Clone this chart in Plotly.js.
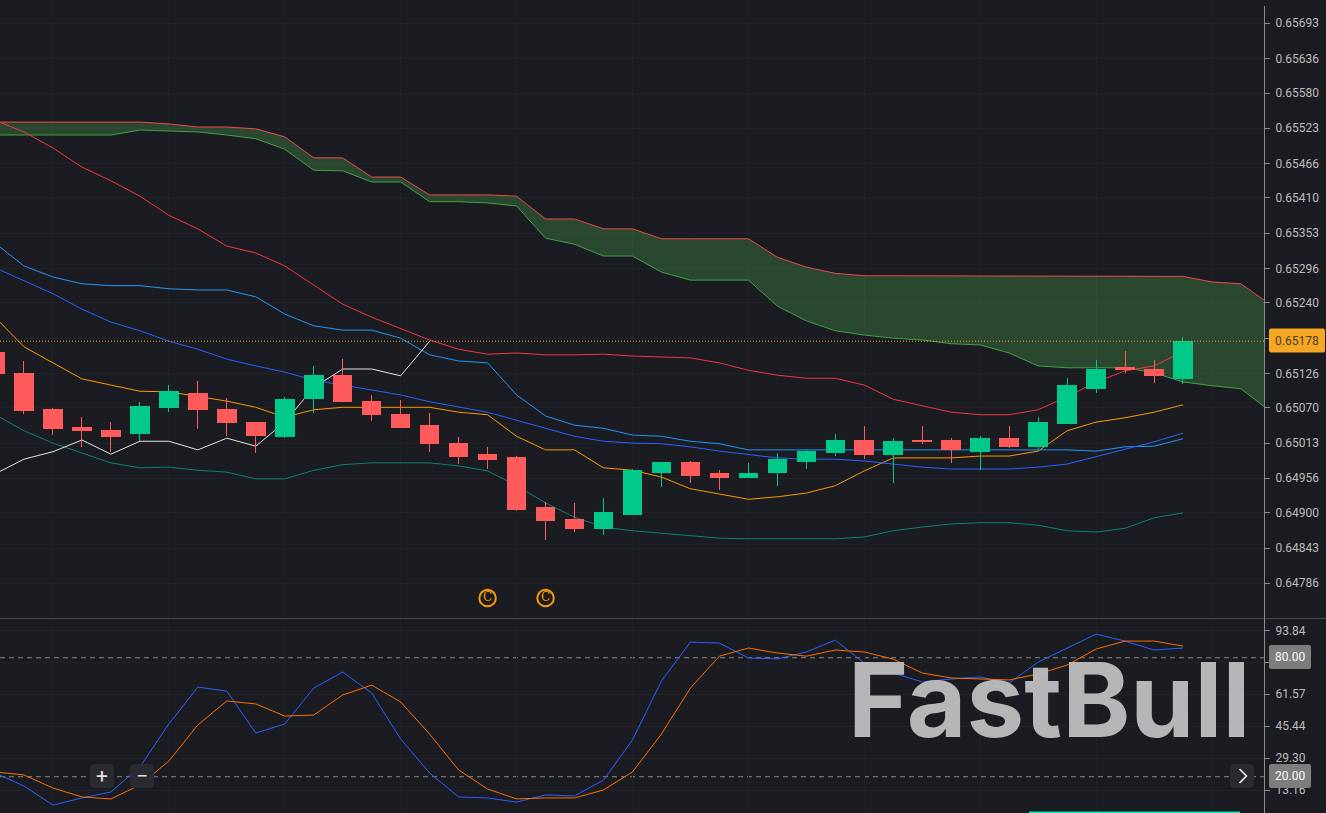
<!DOCTYPE html>
<html>
<head>
<meta charset="utf-8">
<script src="https://cdn.plot.ly/plotly-3.0.1.min.js"></script>
<style>html,body{margin:0;padding:0;background:#1b1c21;overflow:hidden}#chart{width:1326px;height:813px}
path.box{stroke-linejoin:miter !important;shape-rendering:crispEdges}</style>
</head>
<body>
<div id="chart"></div>
<script>
// Candles in price units x 1e-5
const open  = [65159,65125,65068,65039,65034,65028,65071,65094,65067,65046,65024,65086,65123,65081,65060,65041,65012,64994,64989,64909,64890,64875,64898,64966,64981,64963,64958,64965,64984,64997,65018,64995,65018,65018,65000,65020,65007,65044,65101,65135,65133,65118];
const high  = [65172,65146,65070,65055,65047,65080,65107,65114,65086,65046,65088,65138,65149,65091,65083,65062,65023,65007,64992,64918,64916,64924,64971,64981,64984,64969,64981,64997,65002,65028,65041,65021,65041,65021,65024,65041,65055,65118,65148,65162,65148,65185];
const low   = [65118,65060,65026,65007,64999,65016,65063,65036,65024,64997,65021,65062,65081,65049,65039,64999,64979,64971,64903,64856,64869,64864,64898,64942,64948,64937,64958,64944,64971,64992,64987,64948,65012,64981,64969,65005,65003,65044,65094,65127,65110,65109];
const close = [65125,65065,65037,65033,65024,65073,65096,65067,65046,65026,65083,65123,65081,65060,65039,65012,64991,64987,64906,64888,64875,64900,64968,64981,64960,64958,64963,64987,64999,65018,64995,65016,65016,65002,65021,65008,65047,65107,65133,65133,65122,65178];
const spanB = [65533,65533,65533,65533,65533,65533,65530,65525,65525,65522,65509,65475,65475,65444,65444,65415,65415,65415,65413,65376,65376,65360,65360,65344,65344,65344,65344,65314,65298,65288,65284,65284,65284,65284,65284,65283,65283,65283,65283,65283,65283,65283,65274,65271,65238];
const spanA = [65512,65512,65512,65512,65512,65520,65519,65517,65512,65506,65489,65455,65454,65436,65436,65404,65404,65402,65397,65345,65335,65316,65316,65290,65277,65277,65277,65235,65211,65195,65188,65183,65180,65174,65172,65159,65138,65135,65135,65135,65127,65112,65106,65101,65065];
const bbUpper = [65536,65517,65491,65460,65438,65413,65382,65360,65332,65321,65300,65269,65238,65217,65199,65180,65165,65157,65159,65156,65156,65157,65154,65152,65151,65143,65131,65123,65118,65118,65107,65084,65073,65063,65059,65059,65067,65088,65112,65130,65138,65161];
const bbMiddle = [65217,65169,65143,65117,65107,65097,65096,65088,65081,65071,65055,65067,65071,65071,65071,65071,65063,65059,65024,65002,65002,64973,64969,64958,64939,64931,64922,64926,64932,64944,64968,64989,64989,64989,64992,64992,65000,65033,65047,65054,65063,65075];
const bbLower = [65059,65033,65013,64997,64981,64973,64974,64969,64966,64955,64955,64969,64978,64981,64981,64981,64976,64968,64944,64916,64893,64877,64871,64867,64864,64859,64858,64858,64858,64858,64861,64871,64877,64882,64884,64884,64880,64871,64869,64875,64892,64900];
const conversion = [65297,65276,65255,65230,65209,65195,65178,65165,65149,65138,65128,65115,65107,65099,65091,65080,65071,65063,65050,65037,65024,65016,65013,65012,65007,65000,64994,64989,64987,64987,64984,64979,64974,64971,64971,64971,64974,64979,64991,65003,65015,65029];
const base = [65337,65300,65282,65271,65268,65268,65263,65261,65261,65250,65222,65203,65196,65196,65183,65156,65146,65143,65091,65057,65042,65037,65026,65024,65016,65012,65002,65002,65002,65002,65002,65002,65002,65002,65002,65002,65002,65002,65000,65007,65008,65020];
const lagging = [64963,64987,64999,65018,64995,65016,65016,65002,65021,65008,65047,65103,65133,65133,65122,65178];
const stochK = [21.9,15.3,5.7,9.3,12.3,24.9,46.6,65.2,63.2,42.0,46.6,64.7,72.8,62.2,39.0,21.9,9.8,9.3,7.2,10.8,10.3,18.3,38.5,68.3,87.9,87.4,79.9,79.4,82.9,88.9,77.3,72.3,67.8,69.3,70.3,67.3,77.8,84.9,91.9,88.4,83.9,84.9];
const stochD = [22.4,20.9,14.3,9.8,8.8,15.8,27.9,46.1,58.2,56.7,50.6,51.1,61.2,66.2,57.7,41.5,23.4,13.8,8.8,9.3,9.3,13.3,22.4,41.5,64.7,80.8,84.9,82.4,80.8,83.9,82.9,79.3,72.3,69.8,69.3,68.8,71.8,76.3,84.4,88.4,88.4,85.9];
const markerBars = [17,19];
const markerPrice = [0.64762,0.64762];
const priceTickVals = [0.65693,0.65636,0.6558,0.65523,0.65466,0.6541,0.65353,0.65296,0.6524,0.65183,0.65126,0.6507,0.65013,0.64956,0.649,0.64843,0.64786];
const priceTicks = ["0.65693","0.65636","0.65580","0.65523","0.65466","0.65410","0.65353","0.65296","0.65240","","0.65126","0.65070","0.65013","0.64956","0.64900","0.64843","0.64786"];
const oscTicks = [93.84,77.70,61.57,45.44,29.30,13.16];
const oscLabels = ["93.84","","61.57","45.44","29.30","13.16"];
const lastPrice = 0.65178;

const price = a => a.map(v => v / 100000);
const idx = a => a.map((_, i) => i);
const W = 1326, H = 813;
const px = x => x / W, py = y => 1 - y / H;
const BG = '#1b1c21', GRID = '#212228', TXT = '#bdbdbd';

const ln = (y, color, name, yaxis) => ({type:'scatter', mode:'lines', x:idx(y), y:y, name:name, yaxis:yaxis||'y',
  line:{color:color, width:1}, hoverinfo:'skip'});

const traces = [
  ln(price(spanB), '#f0484e', 'Span B'),
  Object.assign(ln(price(spanA), '#43a047', 'Span A'), {fill:'tonexty', fillcolor:'rgba(76,175,80,0.3)'}),
  ln(price(bbUpper), '#f23645', 'BB upper'),
  ln(price(bbMiddle), '#ff9800', 'BB middle'),
  ln(price(bbLower), '#0b8273', 'BB lower'),
  ln(price(base), '#2196f3', 'Base'),
  ln(price(conversion), '#2962ff', 'Conversion'),
  ln(price(lagging), '#e6e6e6', 'Lagging'),
  {type:'candlestick', x:idx(open), open:price(open), high:price(high), low:price(low), close:price(close), yaxis:'y2',
   increasing:{line:{color:'#00c98a', width:1}, fillcolor:'#00c98a'},
   decreasing:{line:{color:'#ff5b5b', width:1}, fillcolor:'#ff5b5b'},
   whiskerwidth:0, hoverinfo:'skip'},
  {type:'scatter', mode:'markers+text', x:markerBars, y:markerPrice, yaxis:'y2', text:['C','C'], textposition:'middle center',
   textfont:{family:'DejaVu Serif', size:12, color:'#f59a0c'},
   marker:{symbol:'circle-open', size:16.5, color:'#f59a0c', line:{width:2, color:'#f59a0c'}}, hoverinfo:'skip'},
  ln(stochK, '#2962ff', '%K', 'y3'),
  ln(stochD, '#ff6d00', '%D', 'y3')
];

const round = (x0, y0, x1, y1, r) => {
  const X = v => px(v), Y = v => py(v);
  return `M ${X(x0+r)} ${Y(y0)} L ${X(x1-r)} ${Y(y0)} Q ${X(x1)} ${Y(y0)} ${X(x1)} ${Y(y0+r)} L ${X(x1)} ${Y(y1-r)} Q ${X(x1)} ${Y(y1)} ${X(x1-r)} ${Y(y1)} L ${X(x0+r)} ${Y(y1)} Q ${X(x0)} ${Y(y1)} ${X(x0)} ${Y(y1-r)} L ${X(x0)} ${Y(y0+r)} Q ${X(x0)} ${Y(y0)} ${X(x0+r)} ${Y(y0)} Z`;
};
const box = (x0, y0, x1, y1, r, fill) => ({type:'path', xref:'paper', yref:'paper', layer:'above', path:round(x0,y0,x1,y1,r), fillcolor:fill, line:{width:0}});
const hline = (x0, x1, y, color) => ({type:'line', xref:'paper', yref:'paper', layer:'above', x0:px(x0), x1:px(x1), y0:py(y), y1:py(y), line:{color:color, width:1}});
const vline = (x, y0, y1, color) => ({type:'line', xref:'paper', yref:'paper', layer:'above', x0:px(x), x1:px(x), y0:py(y0), y1:py(y1), line:{color:color, width:1}});
const lab = (text, x, y, size, color, extra) => Object.assign({text:text, xref:'paper', yref:'paper', x:px(x), y:py(y), xanchor:'center', yanchor:'middle', showarrow:false,
  font:{family:'Roboto', size:size, color:color}}, extra||{});

const shapes = [
  {type:'line', xref:'paper', yref:'y3', layer:'below', x0:0, x1:1264/W, y0:80, y1:80, line:{color:'#8a8a8a', width:1, dash:'5px,4px'}},
  {type:'line', xref:'paper', yref:'y3', layer:'below', x0:0, x1:1264/W, y0:20, y1:20, line:{color:'#8a8a8a', width:1, dash:'5px,4px'}},
  {type:'line', xref:'paper', yref:'y', layer:'above', x0:0, x1:1264/W, y0:lastPrice, y1:lastPrice, line:{color:'#f5a623', width:1, dash:'1px,2px'}},
  hline(0, 1326, 618.5, '#47484d'),
  vline(1264.5, 6, 813, '#8c8c8c'),
  box(1269, 328.5, 1325, 352.5, 2, '#f5a623'),
  box(1269, 645, 1311, 669, 2, '#7d7d7d'),
  box(1269, 764, 1311, 788, 2, '#7d7d7d'),
  box(90, 764, 114, 788, 4, '#2a2b30'),
  box(130, 764, 154, 788, 4, '#2a2b30'),
  box(1230, 764, 1254, 788, 4, '#2a2b30'),
  {type:'path', xref:'paper', yref:'paper', layer:'above',
   path:`M ${px(1239.5)} ${py(769)} L ${px(1246.5)} ${py(776)} L ${px(1239.5)} ${py(783)}`, line:{color:'#f0f0f0', width:1.6}},
  box(1029, 811.5, 1240, 813, 0, '#10eab0')
];

const annotations = [
  lab('FastBull', 1049, 699.5, 103, '#bdbdbd', {font:{family:'Inter', size:103, color:'#bdbdbd', weight:700}, opacity:0.96}),
  lab('0.65178', 1297, 340.5, 12, '#4a3d26'),
  lab('80.00', 1290, 657, 12, '#ffffff'),
  lab('20.00', 1290, 776, 12, '#ffffff'),
  lab('+', 102, 775.5, 21, '#e0e0e0'),
  lab('−', 142, 775.5, 21, '#e0e0e0')
];

const rangeMain = [0.647297, 0.657307];
const layout = {
  width:W, height:H, margin:{l:0, r:0, t:0, b:0, pad:0}, paper_bgcolor:BG, plot_bgcolor:BG, showlegend:false, hovermode:false,
  boxgap:0.36, boxgroupgap:0,
  xaxis:{domain:[0,1264/W], range:[5/28.975, 1269/28.975], type:'linear', showticklabels:false, ticks:'', tick0:2, dtick:4,
         showgrid:true, gridcolor:GRID, gridwidth:1, zeroline:false, showline:false, rangeslider:{visible:false}, anchor:'y3'},
  yaxis:{domain:[195/H,1], range:rangeMain, side:'right', anchor:'x', tickmode:'array', tickvals:priceTickVals, ticktext:priceTicks,
         ticks:'outside', ticklen:5, tickwidth:1, tickcolor:'#8c8c8c', ticklabelstandoff:3, tickfont:{family:'Roboto', size:12, color:TXT},
         showgrid:true, gridcolor:GRID, zeroline:false, showline:false, automargin:false},
  yaxis2:{overlaying:'y', range:rangeMain, visible:false, side:'right', anchor:'x'},
  yaxis3:{domain:[0,194/H], range:[1.70,99.54], side:'right', anchor:'x', tickmode:'array', tickvals:oscTicks, ticktext:oscLabels,
         ticks:'outside', ticklen:5, tickwidth:1, tickcolor:'#8c8c8c', ticklabelstandoff:3, tickfont:{family:'Roboto', size:12, color:TXT},
         showgrid:true, gridcolor:GRID, zeroline:false, showline:false, automargin:false},
  shapes:shapes, annotations:annotations
};
Plotly.newPlot('chart', traces, layout, {displayModeBar:false, staticPlot:true, responsive:false});
</script>
</body>
</html>
